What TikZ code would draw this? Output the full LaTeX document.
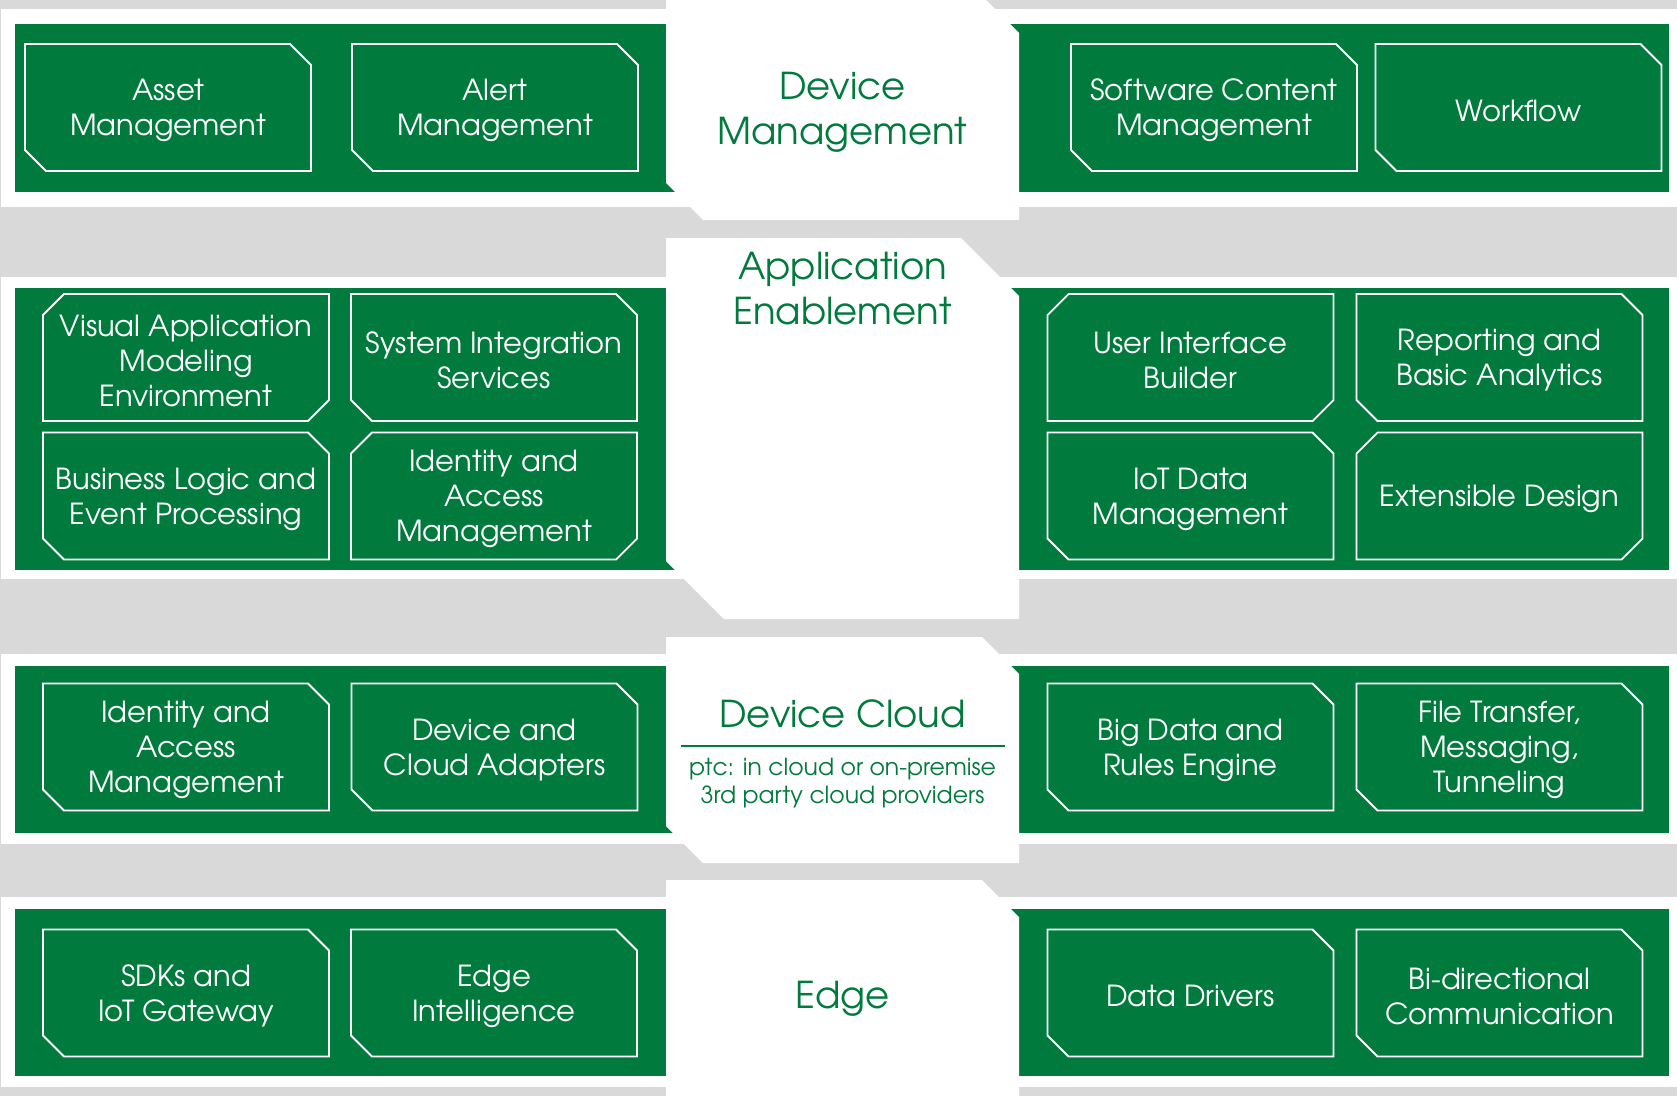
\documentclass[tikz,border=0pt]{standalone}
\usepackage{fontspec}
\setmainfont{TeX Gyre Adventor}
\definecolor{ptcgreen}{RGB}{0,122,61}
\definecolor{bandgray}{RGB}{217,217,217}

\begin{document}
\begin{tikzpicture}[x=1pt, y=-1pt,
	box/.style = {minimum width = 286pt, minimum height = 127pt, inner sep = 0pt, outer sep = 0pt},
	boxtext/.style = {text = white, align = center, yshift = -3pt, font = \fontsize{29}{35}\selectfont},
	outline/.style = {draw = white, line width = 1.8pt},
	title/.style = {text = ptcgreen, align = center, font = \fontsize{37}{45}\selectfont},
	sub/.style = {text = ptcgreen, align = center, font = \fontsize{23.5}{28}\selectfont}]
	\useasboundingbox (0,0) rectangle (1677,1096);
	\clip (0,0) rectangle (1677,1096);
	\fill[bandgray] (0,0) rectangle (1677,1096);
	\fill[white] (1,9) rectangle (1677,207);
	\fill[white] (1,277) rectangle (1677,579);
	\fill[white] (1,654) rectangle (1677,844);
	\fill[white] (1,897) rectangle (1677,1087);
	\fill[ptcgreen] (15,24) rectangle (1669,192);
	\fill[ptcgreen] (15,288) rectangle (1669,570);
	\fill[ptcgreen] (15,666) rectangle (1669,833);
	\fill[ptcgreen] (15,909) rectangle (1669,1076);
	\fill[white] (666,-4) -- (982,-4) -- (1019,33) -- (1019,220) -- (703,220) -- (666,183) -- cycle;
	\fill[white] (666,238) -- (961,238) -- (1019,296) -- (1019,619) -- (724,619) -- (666,561) -- cycle;
	\fill[white] (666,637) -- (982,637) -- (1019,674) -- (1019,863) -- (703,863) -- (666,826) -- cycle;
	\fill[white] (666,880) -- (982,880) -- (1019,917) -- (1019,1120) -- (666,1120) -- cycle;

	\node[box, label = {[boxtext]center:{Asset\\Management}}] (asset) at (168,107.5) {};
	\node[box, label = {[boxtext]center:{Alert\\Management}}] (alert) at (495,107.5) {};
	\node[box, label = {[boxtext]center:{Software Content\\Management}}] (software) at (1214,107.5) {};
	\node[box, label = {[boxtext]center:{Workflow}}] (workflow) at (1518.5,107.5) {};

	\node[box, label = {[boxtext]center:{Visual Application\\Modeling\\Environment}}] (visual) at (186,357.5) {};
	\node[box, label = {[boxtext]center:{System Integration\\Services}}] (sysint) at (494,357.5) {};
	\node[box, label = {[boxtext]center:{Business Logic and\\Event Processing}}] (business) at (186,496) {};
	\node[box, label = {[boxtext]center:{Identity and\\Access\\Management}}] (identityA) at (494,496) {};
	\node[box, label = {[boxtext]center:{User Interface\\Builder}}] (uibuilder) at (1190.5,357.5) {};
	\node[box, label = {[boxtext]center:{Reporting and\\Basic Analytics}}] (reporting) at (1499.5,357.5) {};
	\node[box, label = {[boxtext]center:{IoT Data\\Management}}] (iotdata) at (1190.5,496) {};
	\node[box, label = {[boxtext]center:{Extensible Design}}] (extensible) at (1499.5,496) {};

	\node[box, label = {[boxtext]center:{Identity and\\Access\\Management}}] (identityB) at (186,747) {};
	\node[box, label = {[boxtext]center:{Device and\\Cloud Adapters}}] (adapters) at (494.5,747) {};
	\node[box, label = {[boxtext]center:{Big Data and\\Rules Engine}}] (bigdata) at (1190.5,747) {};
	\node[box, label = {[boxtext]center:{File Transfer,\\Messaging,\\Tunneling}}] (filetransfer) at (1499.5,747) {};

	\node[box, label = {[boxtext]center:{SDKs and\\IoT Gateway}}] (sdks) at (186,993) {};
	\node[box, label = {[boxtext]center:{Edge\\Intelligence}}] (edgeint) at (494,993) {};
	\node[box, label = {[boxtext]center:{Data Drivers}}] (drivers) at (1190.5,993) {};
	\node[box, label = {[boxtext]center:{Bi-directional\\Communication}}] (bidir) at (1499.5,993) {};

	\foreach \n in {asset, alert, software, workflow, sysint, business, reporting, iotdata, identityB, adapters, bigdata, filetransfer, sdks, edgeint, drivers, bidir}
		\draw[outline] (\n.north west) -- ([xshift = -21pt]\n.north east) -- ([yshift = -21pt]\n.north east) -- (\n.south east) -- ([xshift = 21pt]\n.south west) -- ([yshift = 21pt]\n.south west) -- cycle;
	\foreach \n in {visual, identityA, uibuilder, extensible}
		\draw[outline] ([xshift = 21pt]\n.north west) -- (\n.north east) -- ([yshift = 21pt]\n.south east) -- ([xshift = -21pt]\n.south east) -- (\n.south west) -- ([yshift = -21pt]\n.north west) -- cycle;

	\node[title] (devmgmt) at (842.5,112) {Device\\Management};
	\node[title] (appenable) at (842.5,288.5) {Application\\Enablement};
	\node[title, anchor = base] (devcloud) at (842.5,727) {Device Cloud};
	\draw[ptcgreen, line width = 2pt] (681,746) -- (1005,746);
	\node[sub] (cloudsub) at (842.5,783) {ptc: in cloud or on-premise\\3rd party cloud providers};
	\node[title, anchor = base] (edge) at (842.5,1008) {Edge};
\end{tikzpicture}
\end{document}
